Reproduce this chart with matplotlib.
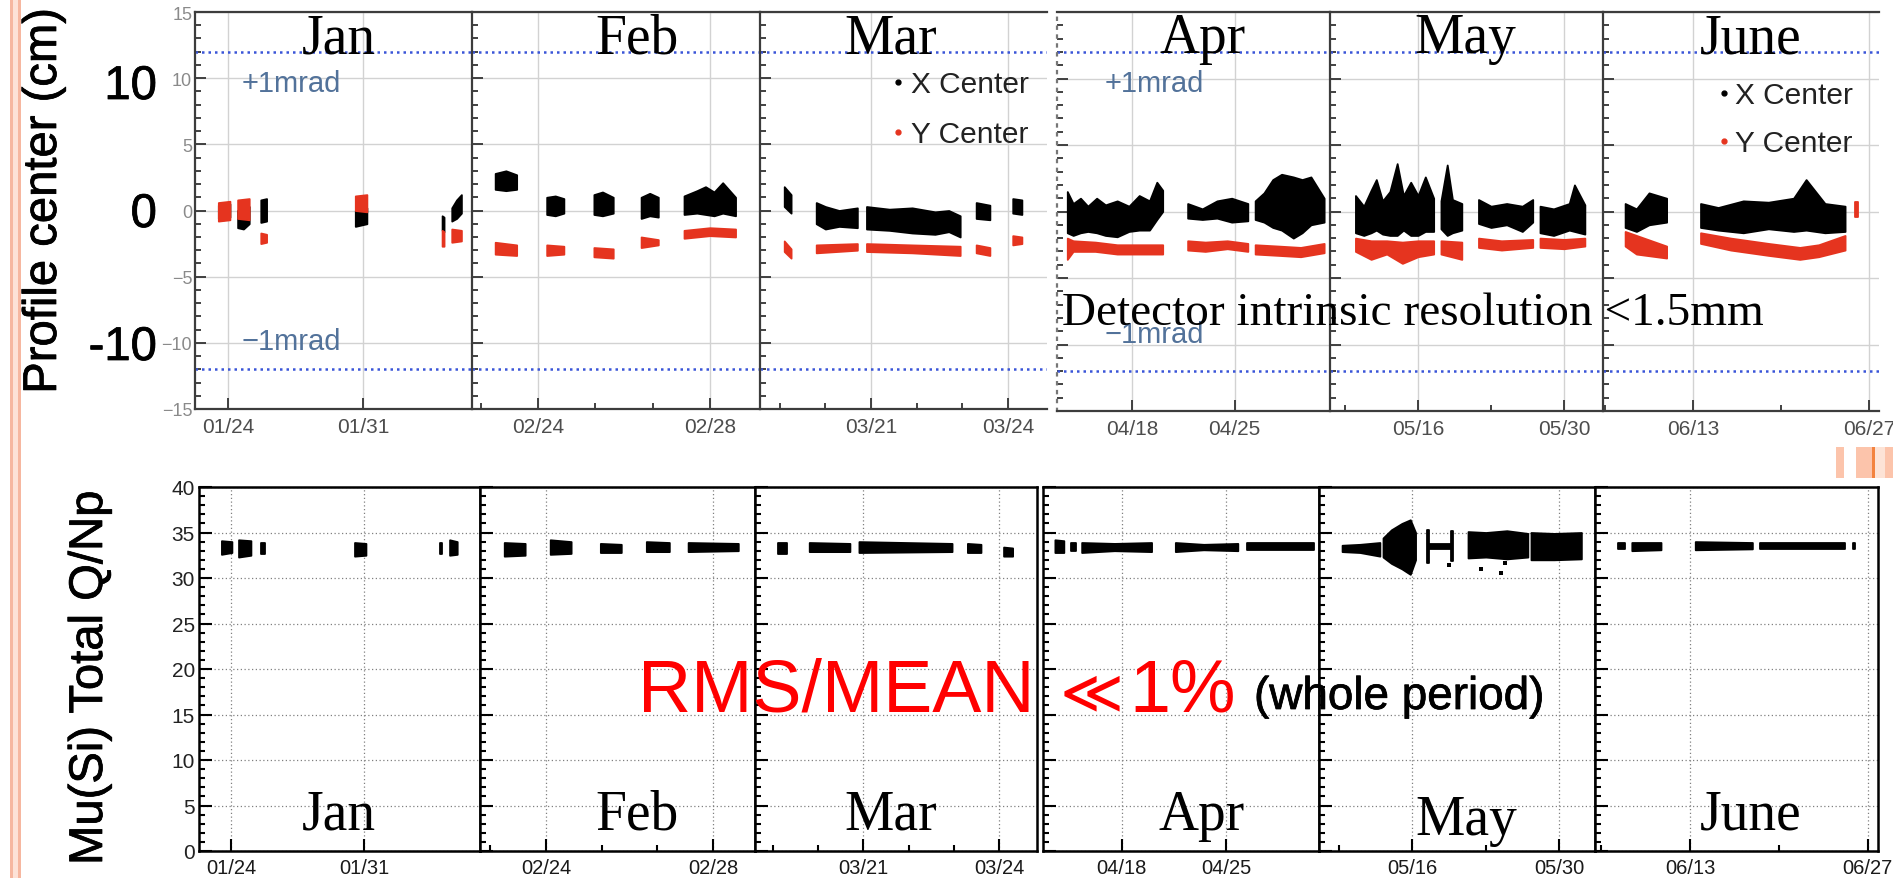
import datetime as dt
import numpy as np
import matplotlib
matplotlib.use("Agg")
import matplotlib.pyplot as plt
import matplotlib.patheffects as pe
from matplotlib.patches import Rectangle

# ---------------------------------------------------------------------------
# Beam profile centre (cm) per run block: [(day_of_year, low, high), ...]
# ---------------------------------------------------------------------------
jan_x = [[(23.5, -0.6, 0.4), (23.8, -0.7, 0.6), (24.1, -0.5, 0.5)],
         [(24.5, -1.3, 0.0), (24.8, -1.4, 0.2), (25.1, -1.0, 0.3)],
         [(25.7, -0.9, 0.8), (26.0, -0.8, 0.9)],
         [(30.6, -1.2, 0.0), (31.2, -1.0, 0.2)],
         [(35.1, -1.5, -0.4), (35.2, -1.6, -0.5)],
         [(35.6, -0.8, 0.2), (35.85, -0.6, 0.8), (36.1, -0.2, 1.2)]]
jan_y = [[(23.5, -0.8, 0.6), (24.1, -0.7, 0.7)],
         [(24.5, -0.6, 0.8), (25.1, -0.7, 0.9)],
         [(25.7, -2.5, -1.7), (26.0, -2.4, -1.8)],
         [(30.6, 0.0, 1.1), (31.2, -0.1, 1.2)],
         [(35.1, -2.7, -1.5), (35.2, -2.7, -1.6)],
         [(35.6, -2.4, -1.4), (36.1, -2.3, -1.5)]]

feb_x = [[(54.0, 1.6, 2.8), (54.25, 1.5, 3.0), (54.5, 1.6, 2.7)],
         [(55.2, -0.3, 1.0), (55.4, -0.4, 1.1), (55.6, -0.2, 0.9)],
         [(56.3, -0.3, 1.2), (56.5, -0.4, 1.4), (56.75, -0.2, 1.0)],
         [(57.4, -0.6, 1.0), (57.6, -0.4, 1.3), (57.8, -0.5, 1.0)],
         [(58.4, -0.3, 1.1), (58.7, -0.2, 1.5), (58.9, -0.3, 1.8),
          (59.1, -0.4, 1.4), (59.3, -0.2, 2.1), (59.6, -0.4, 1.0)]]
feb_y = [[(54.0, -3.3, -2.4), (54.5, -3.4, -2.6)],
         [(55.2, -3.4, -2.6), (55.6, -3.3, -2.7)],
         [(56.3, -3.5, -2.8), (56.75, -3.6, -2.9)],
         [(57.4, -2.8, -2.0), (57.8, -2.6, -2.2)],
         [(58.4, -2.1, -1.5), (59.0, -1.9, -1.3), (59.6, -2.0, -1.4)]]

mar_x = [[(78.1, 0.3, 1.8), (78.25, -0.2, 1.2)],
         [(78.8, -1.0, 0.6), (79.0, -1.4, 0.3), (79.3, -1.2, 0.0), (79.7, -1.3, 0.2)],
         [(79.9, -1.4, 0.3), (80.4, -1.5, 0.1), (80.9, -1.7, 0.2), (81.4, -1.8, -0.1),
          (81.7, -1.6, 0.0), (81.95, -2.0, -0.4)],
         [(82.3, -0.6, 0.6), (82.6, -0.7, 0.4)],
         [(83.1, -0.2, 0.9), (83.3, -0.3, 0.8)]]
mar_y = [[(78.1, -3.1, -2.3), (78.25, -3.6, -2.9)],
         [(78.8, -3.2, -2.6), (79.7, -3.0, -2.5)],
         [(79.9, -3.1, -2.5), (80.9, -3.2, -2.6), (81.95, -3.4, -2.7)],
         [(82.3, -3.2, -2.6), (82.6, -3.4, -2.8)],
         [(83.1, -2.6, -1.9), (83.3, -2.5, -2.0)]]

apr_x = [[(103.6, -1.6, 1.5), (104.0, -1.8, 0.6), (104.5, -1.6, 1.0), (105.0, -1.5, 0.4),
          (105.6, -1.6, 1.0), (106.2, -1.8, 0.5), (107.0, -1.9, 0.8), (107.8, -1.5, 0.4),
          (108.5, -1.4, 1.2), (109.2, -1.4, 0.8), (109.7, -0.6, 2.2), (110.1, 0.0, 1.6)],
         [(111.8, -0.5, 0.6), (112.8, -0.6, 0.2), (113.8, -0.5, 0.8), (114.8, -0.8, 1.0),
          (115.9, -0.7, 0.6)],
         [(116.4, -0.6, 0.8), (117.0, -0.8, 1.4), (117.6, -1.2, 2.4), (118.2, -1.4, 2.8),
          (119.0, -2.0, 2.6), (119.6, -1.6, 2.4), (120.2, -1.0, 2.6), (121.1, -0.8, 1.0)]]
apr_y = [[(103.6, -3.6, -2.0), (104.0, -3.0, -2.2), (105.5, -3.0, -2.3), (107.0, -3.2, -2.5),
          (108.5, -3.2, -2.5), (110.1, -3.2, -2.5)],
         [(111.8, -2.9, -2.2), (113.0, -3.0, -2.3), (114.5, -2.8, -2.2), (115.9, -3.0, -2.4)],
         [(116.4, -3.2, -2.5), (118.0, -3.3, -2.6), (119.5, -3.4, -2.7), (121.1, -3.1, -2.4)]]

may_x = [[(130.0, -1.6, 1.2), (130.8, -1.8, 0.4), (131.5, -1.6, 1.6), (132.0, -1.4, 2.4),
          (132.6, -1.7, 0.8), (133.3, -1.8, 1.5), (134.0, -1.8, 3.6), (134.6, -1.4, 1.2),
          (135.3, -1.8, 2.2), (136.0, -1.8, 1.2), (136.7, -1.5, 2.6), (137.5, -1.5, 1.0)],
         [(138.2, -1.3, 0.8), (138.8, -1.8, 3.5), (139.3, -1.6, 0.9), (140.2, -1.4, 0.6)],
         [(141.8, -0.9, 0.9), (143.0, -1.2, 0.4), (144.5, -1.0, 0.6), (146.0, -1.5, 0.4),
          (147.0, -0.8, 0.9)],
         [(147.7, -1.6, 0.4), (149.0, -1.8, 0.2), (150.5, -1.4, 0.6), (151.0, -1.5, 2.0),
          (152.0, -1.7, 0.5)]]
may_y = [[(130.0, -3.0, -2.0), (131.5, -3.6, -2.2), (133.0, -3.2, -2.2), (134.5, -3.9, -2.3),
          (136.0, -3.4, -2.2), (137.5, -3.2, -2.2)],
         [(138.2, -3.2, -2.2), (140.2, -3.6, -2.3)],
         [(141.8, -2.7, -2.0), (144.0, -2.9, -2.2), (147.0, -2.7, -2.1)],
         [(147.7, -2.7, -2.0), (150.0, -2.8, -2.1), (152.0, -2.6, -2.0)]]

jun_x = [[(158.6, -1.2, 0.6), (159.5, -1.5, 0.2), (160.5, -1.0, 1.4), (161.9, -0.8, 1.0)],
         [(164.6, -1.2, 0.6), (166.0, -1.4, 0.3), (168.0, -1.6, 0.8), (170.0, -1.3, 0.7),
          (172.0, -1.5, 1.0), (173.0, -1.4, 2.4), (174.5, -1.6, 0.6), (176.1, -1.5, 0.4)]]
jun_y = [[(158.6, -2.6, -1.5), (159.5, -3.2, -1.8), (161.9, -3.5, -2.6)],
         [(164.6, -2.4, -1.6), (167.0, -2.9, -2.0), (170.0, -3.3, -2.4), (172.5, -3.6, -2.7),
          (174.0, -3.4, -2.5), (176.1, -2.9, -1.8)],
         [(176.9, -0.4, 0.7), (177.1, -0.4, 0.7)]]

# ---------------------------------------------------------------------------
# Mu(Si) total charge / Np per run block: [(day_of_year, low, high), ...]
# ---------------------------------------------------------------------------
jan_q = [[(23.5, 32.6, 34.1), (24.05, 32.8, 34.0)],
         [(24.4, 32.3, 34.2), (25.05, 32.5, 34.1)],
         [(25.6, 32.6, 33.8), (25.8, 32.6, 33.8)],
         [(30.5, 32.4, 33.9), (31.1, 32.5, 33.8)],
         [(35.0, 32.6, 33.8), (35.1, 32.6, 33.8)],
         [(35.5, 32.5, 34.2), (35.9, 32.6, 34.0)]]
feb_q = [[(54.0, 32.4, 33.9), (54.5, 32.5, 33.8)],
         [(55.1, 32.6, 34.2), (55.6, 32.7, 34.0)],
         [(56.3, 32.8, 33.8), (56.8, 32.8, 33.7)],
         [(57.4, 32.9, 34.0), (57.95, 32.9, 33.9)],
         [(58.4, 32.9, 33.9), (59.6, 33.0, 33.8)]]
mar_q = [[(78.1, 32.6, 33.8), (78.3, 32.6, 33.8)],
         [(78.8, 32.9, 33.9), (79.7, 32.9, 33.8)],
         [(79.9, 32.8, 34.0), (81.96, 32.9, 33.8)],
         [(82.3, 32.8, 33.8), (82.6, 32.8, 33.7)],
         [(83.1, 32.4, 33.4), (83.3, 32.4, 33.3)]]
apr_q = [[(103.5, 32.8, 34.2), (104.1, 32.8, 34.1)],
         [(104.6, 33.0, 33.8), (104.9, 33.0, 33.8)],
         [(105.3, 32.8, 33.9), (107.5, 33.0, 33.8), (110.0, 32.9, 33.9)],
         [(111.6, 32.9, 33.9), (113.5, 33.1, 33.7), (115.8, 33.0, 33.8)],
         [(116.4, 33.1, 33.8), (120.9, 33.1, 33.8)]]
may_q = [[(129.3, 32.9, 33.6), (131.0, 32.8, 33.7), (132.9, 32.4, 33.9)],
         [(133.2, 32.3, 34.4), (134.0, 31.6, 35.3), (135.0, 31.0, 36.0), (135.8, 30.4, 36.4),
          (136.3, 32.0, 35.0)],
         [(137.4, 31.7, 35.3), (137.6, 31.7, 35.3)],
         [(137.6, 33.2, 33.7), (139.7, 33.2, 33.7)],
         [(139.7, 31.9, 35.2), (139.9, 31.9, 35.2)],
         [(141.3, 32.2, 35.1), (143.0, 32.3, 35.0), (145.0, 32.1, 35.2), (147.0, 32.3, 34.9)],
         [(147.3, 32.0, 35.0), (149.5, 32.0, 34.9), (152.1, 32.1, 35.0)]]
may_q_outliers = [(139.5, 31.4), (142.5, 31.0), (144.4, 30.6), (144.8, 31.6)]
jun_q = [[(158.3, 33.2, 33.8), (158.9, 33.2, 33.8)],
         [(159.4, 33.0, 33.9), (161.7, 33.1, 33.9)],
         [(164.4, 33.1, 34.0), (168.9, 33.2, 33.9)],
         [(169.5, 33.2, 33.9), (176.2, 33.2, 33.9)],
         [(176.85, 33.2, 33.8), (176.95, 33.2, 33.8)]]

months = ["Jan", "Feb", "Mar", "Apr", "May", "June"]
tick_labels = [["01/24", "01/31"], ["02/24", "02/28"], ["03/21", "03/24"],
               ["04/18", "04/25"], ["05/16", "05/30"], ["06/13", "06/27"]]
minor_step = [7, 4 / 3, 1, 7, 7, 7]          # days between minor ticks
x_series = [jan_x, feb_x, mar_x, apr_x, may_x, jun_x]
y_series = [jan_y, feb_y, mar_y, apr_y, may_y, jun_y]
q_series = [jan_q, feb_q, mar_q, apr_q, may_q, jun_q]
mrad_limit = 12.0                              # cm, +-1 mrad

# axis ranges (day of year) for each monthly window
top_xlim = [(22.29, 36.65), (53.46, 60.17), (77.57, 83.85),
            (102.9, 121.5), (127.56, 153.74), (156.84, 178.8)]
bot_xlim = [(22.32, 37.1), (53.42, 60.0), (77.6, 83.84),
            (102.7, 121.26), (127.1, 153.4), (156.5, 178.8)]

# ---------------------------------------------------------------------------
W, H = 1893, 879
fig = plt.figure(figsize=(W / 100, H / 100), dpi=100)
fig.patch.set_facecolor("white")

SANS = ["Liberation Sans", "DejaVu Sans"]
SERIF = ["Liberation Serif", "DejaVu Serif"]
X_COL, Y_COL = "#000000", "#e5341f"
THICK = [pe.withStroke(linewidth=0.55, foreground="black")]


def doy(label):
    m, d = (int(v) for v in label.split("/"))
    return dt.date(2011, m, d).timetuple().tm_yday


def add_box(x0, x1, y0, y1):
    return fig.add_axes([x0 / W, 1 - y1 / H, (x1 - x0) / W, (y1 - y0) / H])


def ftext(x, y, s, **kw):
    return fig.text(x / W, 1 - y / H, s, **kw)


def draw_blocks(ax, blocks, color):
    for blk in blocks:
        t, lo, hi = np.array(blk, dtype=float).T
        ax.fill_between(t, lo, hi, color=color, lw=1.3, zorder=3)


def set_date_ticks(ax, i, xlim):
    major = [doy(t) for t in tick_labels[i]]
    ax.set_xlim(*xlim)
    ax.set_xticks(major)
    ax.set_xticklabels(tick_labels[i])
    step = minor_step[i]
    k0 = int(np.floor((xlim[0] - major[0]) / step))
    k1 = int(np.ceil((xlim[1] - major[0]) / step))
    minor = [major[0] + k * step for k in range(k0, k1 + 1)]
    ax.set_xticks([m for m in minor if xlim[0] < m < xlim[1]], minor=True)


# ---------------------------- top row: profile centre ----------------------
top_boxes = [(195, 472, 13, 410), (472, 760, 13, 410), (760, 1047, 13, 410),
             (1057, 1330, 13, 412), (1330, 1603, 13, 412), (1603, 1879, 13, 412)]
for i in range(6):
    ax = add_box(*top_boxes[i])
    set_date_ticks(ax, i, top_xlim[i])
    ax.set_ylim(-15, 15)
    ax.set_yticks(np.arange(-15, 16, 5))
    ax.set_yticks(np.arange(-15, 16, 1), minor=True)
    ax.grid(which="major", color="#d2d2d2", lw=1.0, zorder=0)
    for s in ax.spines.values():
        s.set_color("#3c3c3c")
        s.set_linewidth(1.6)
    ax.spines["right"].set_visible(False)
    if i == 3:
        ax.spines["left"].set_linestyle((0, (1, 3)))
        ax.spines["left"].set_color("#777777")
    ax.tick_params(axis="both", which="major", direction="in", length=8, width=1.3,
                   color="#333333")
    ax.tick_params(axis="both", which="minor", direction="in", length=4, width=1.3,
                   color="#333333")
    ax.tick_params(axis="x", labelsize=15, labelcolor="#4d4d4d", pad=6)
    ax.tick_params(axis="y", labelsize=13, labelcolor="#8a8a8a", pad=2,
                   labelleft=(i == 0))
    for lab in ax.get_xticklabels() + ax.get_yticklabels():
        lab.set_family(SANS)
    for lim in (mrad_limit, -mrad_limit):
        ax.axhline(lim, color="#3a55d8", lw=1.8, ls=(0, (1, 1.6)), zorder=2)
    draw_blocks(ax, x_series[i], X_COL)
    draw_blocks(ax, y_series[i], Y_COL)

# ---------------------------- bottom row: total Q / Np ---------------------
bot_boxes = [(199, 480, 488, 852), (480, 755, 488, 852), (755, 1037, 488, 852),
             (1043, 1319, 488, 852), (1319, 1595, 488, 852), (1595, 1878, 488, 852)]
for i in range(6):
    ax = add_box(*bot_boxes[i])
    set_date_ticks(ax, i, bot_xlim[i])
    ax.set_ylim(0, 40)
    ax.set_yticks(np.arange(0, 41, 5))
    ax.set_yticks(np.arange(0, 41, 1), minor=True)
    ax.grid(which="major", color="#808080", lw=0.9, ls=(0, (1, 2)), zorder=0)
    for s in ax.spines.values():
        s.set_color("#000000")
        s.set_linewidth(1.8)
    ax.tick_params(axis="both", which="major", direction="in", length=9, width=1.5,
                   color="#000000")
    ax.tick_params(axis="both", which="minor", direction="in", length=4, width=1.5,
                   color="#000000")
    ax.tick_params(axis="x", labelsize=14.5, labelcolor="#1a1a1a", pad=5)
    ax.tick_params(axis="y", labelsize=15, labelcolor="#222222", pad=3,
                   labelleft=(i == 0))
    for lab in ax.get_xticklabels() + ax.get_yticklabels():
        lab.set_family(SANS)
    draw_blocks(ax, q_series[i], "#000000")
    if i == 4:
        t, v = np.array(may_q_outliers).T
        ax.scatter(t, v, s=7, marker="s", color="#000000", zorder=3, lw=0)

# ---------------------------- annotations ---------------------------------
# month names
for name, xc in zip(months, [339, 637, 891, 1203, 1465, 1751]):
    ftext(xc, 53, name, ha="center", va="baseline", fontsize=40, family=SERIF)
for name, xc, yb in zip(months, [339, 637, 891, 1202, 1466, 1751],
                        [830, 830, 830, 830, 835, 830]):
    ftext(xc, yb, name, ha="center", va="baseline", fontsize=40, family=SERIF)

# +-1 mrad labels
for x0, yp, ym in [(242, 92, 350), (1105, 92, 343)]:
    ftext(x0, yp, "+1mrad", ha="left", va="baseline", fontsize=21, color="#52729a",
          family=SANS)
    ftext(x0, ym, "\u22121mrad", ha="left", va="baseline", fontsize=21,
          color="#52729a", family=SANS)

# legends
for xd, xt, yx, yy in [(898, 911, 93, 143), (1724, 1735, 104, 152)]:
    ftext(xt, yx, "X Center", ha="left", va="baseline", fontsize=21.5,
          color="#222222", family=SANS)
    ftext(xt, yy, "Y Center", ha="left", va="baseline", fontsize=21.5,
          color="#222222", family=SANS)
    fig.add_artist(plt.Line2D([xd / W], [1 - (yx - 10) / H], marker="o", ms=3.5,
                              color="#000000", lw=0))
    fig.add_artist(plt.Line2D([xd / W], [1 - (yy - 10) / H], marker="o", ms=3.5,
                              color=Y_COL, lw=0))

# large axis labels
for s, yb in [("10", 100), ("0", 228), ("-10", 361)]:
    ftext(157, yb, s, ha="right", va="baseline", fontsize=34, family=SANS,
          path_effects=THICK)
ftext(44, 202, "Profile center (cm)", rotation=90, ha="center", va="center",
      fontsize=34, family=SANS, path_effects=THICK)
ftext(90, 679, "Mu(Si) Total Q/Np", rotation=90, ha="center", va="center",
      fontsize=34, family=SANS, path_effects=THICK)

ftext(1062, 325, "Detector intrinsic resolution <1.5mm", ha="left", va="baseline",
      fontsize=34, family=SERIF)

ftext(638, 712, "RMS/MEAN", ha="left", va="baseline", fontsize=53, color="#ff0000",
      family=SANS)
ftext(1060, 712, "\u226a", ha="left", va="baseline", fontsize=44, color="#ff0000",
      family=["DejaVu Sans"])
ftext(1129, 712, "1%", ha="left", va="baseline", fontsize=53, color="#ff0000",
      family=SANS)
ftext(1254, 710, "(whole period)", ha="left", va="baseline", fontsize=33,
      color="#000000", family=SANS, path_effects=THICK)

# slide decoration stripes
for x0, x1, c in [(10, 21, "#fde2d7"), (10, 13, "#f6b7a0"), (18, 21, "#f6b7a0")]:
    fig.add_artist(Rectangle((x0 / W, 0), (x1 - x0) / W, 1, color=c, lw=0,
                             transform=fig.transFigure))
for x0, x1, c in [(1836, 1844, "#fcc4ab"), (1856, 1872, "#fcc4ab"),
                  (1872, 1875, "#f3833f"), (1875, 1885, "#fde3d6"),
                  (1885, 1893, "#fcc4ab")]:
    fig.add_artist(Rectangle((x0 / W, 1 - 479 / H), (x1 - x0) / W, 31 / H, color=c,
                             lw=0, transform=fig.transFigure))

fig.savefig("out.png", dpi=100)
